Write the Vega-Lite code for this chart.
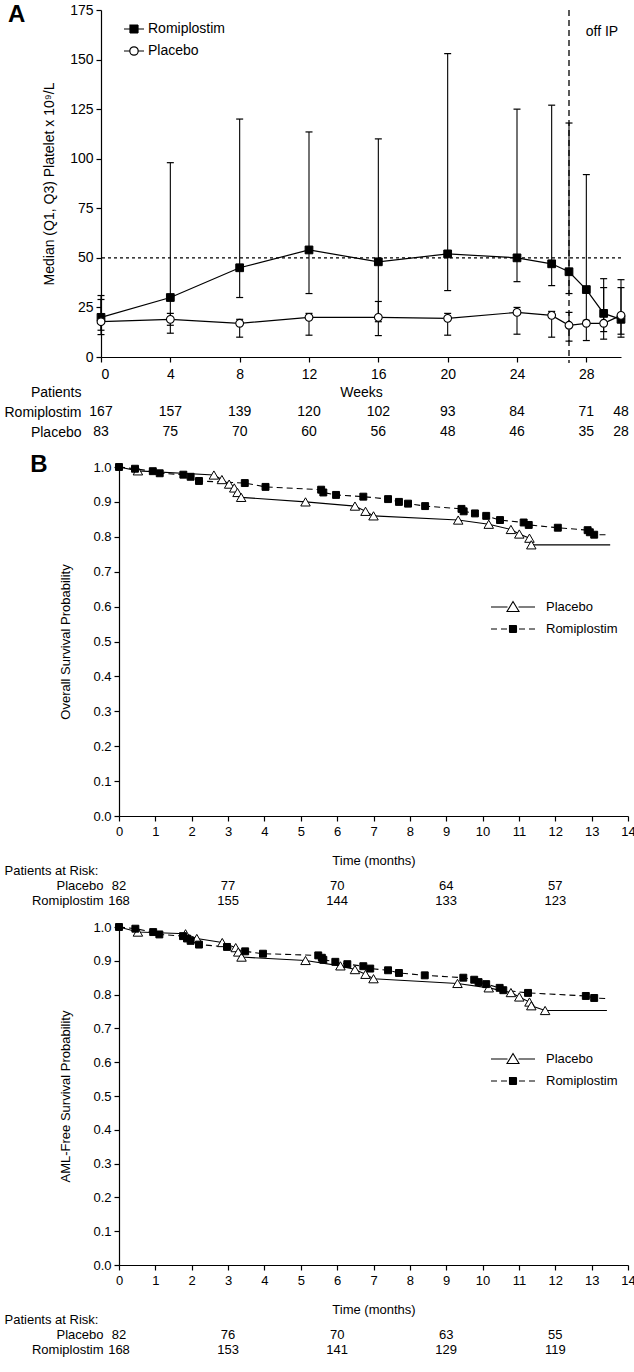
{
  "$schema": "https://vega.github.io/schema/vega-lite/v6.json",
  "background": "white",
  "padding": {"left": 3, "top": 3, "right": 0, "bottom": 2},
  "config": {
    "font": "Liberation Sans",
    "view": {"stroke": null},
    "axis": {"grid": false, "labelColor": "#000", "titleColor": "#000", "domainColor": "#000", "tickColor": "#000", "labelFont": "Liberation Sans", "titleFont": "Liberation Sans", "titleFontWeight": "normal", "labelFontSize": 13, "titleFontSize": 13, "tickSize": 5, "domainWidth": 1.2, "tickWidth": 1.2, "labelOverlap": false},
    "legend": {"labelFont": "Liberation Sans", "labelColor": "#000"},
    "text": {"font": "Liberation Sans", "color": "#000"}
  },
  "datasets": {
    "pa": [
      {"group": "Romiplostim", "week": 0, "med": 20, "q1": 13.5, "q3": 31},
      {"group": "Romiplostim", "week": 4, "med": 30, "q1": 16, "q3": 98},
      {"group": "Romiplostim", "week": 8, "med": 45, "q1": 30, "q3": 120},
      {"group": "Romiplostim", "week": 12, "med": 54, "q1": 32, "q3": 113.5},
      {"group": "Romiplostim", "week": 16, "med": 48, "q1": 17.8, "q3": 110},
      {"group": "Romiplostim", "week": 20, "med": 52, "q1": 33.5, "q3": 153},
      {"group": "Romiplostim", "week": 24, "med": 50, "q1": 38, "q3": 125},
      {"group": "Romiplostim", "week": 26, "med": 47, "q1": 36, "q3": 127},
      {"group": "Romiplostim", "week": 27, "med": 43, "q1": 32, "q3": 118},
      {"group": "Romiplostim", "week": 28, "med": 34, "q1": 18, "q3": 92},
      {"group": "Romiplostim", "week": 29, "med": 22, "q1": 12.8, "q3": 39.5},
      {"group": "Romiplostim", "week": 30, "med": 19, "q1": 11.5, "q3": 39},
      {"group": "Placebo", "week": 0, "med": 17.8, "q1": 11.3, "q3": 29},
      {"group": "Placebo", "week": 4, "med": 19, "q1": 12, "q3": 22},
      {"group": "Placebo", "week": 8, "med": 17, "q1": 10, "q3": 19},
      {"group": "Placebo", "week": 12, "med": 20, "q1": 11, "q3": 22},
      {"group": "Placebo", "week": 16, "med": 20, "q1": 10.8, "q3": 28},
      {"group": "Placebo", "week": 20, "med": 19.5, "q1": 11, "q3": 22},
      {"group": "Placebo", "week": 24, "med": 22.5, "q1": 11.5, "q3": 25},
      {"group": "Placebo", "week": 26, "med": 21, "q1": 10, "q3": 23},
      {"group": "Placebo", "week": 27, "med": 16, "q1": 8, "q3": 22.5},
      {"group": "Placebo", "week": 28, "med": 17, "q1": 8.3, "q3": 18.5},
      {"group": "Placebo", "week": 29, "med": 17, "q1": 9, "q3": 35},
      {"group": "Placebo", "week": 30, "med": 21, "q1": 10, "q3": 35}
    ],
    "ta": [
      {"row": "Romiplostim", "week": 0, "n": 167}, {"row": "Romiplostim", "week": 4, "n": 157}, {"row": "Romiplostim", "week": 8, "n": 139}, {"row": "Romiplostim", "week": 12, "n": 120}, {"row": "Romiplostim", "week": 16, "n": 102}, {"row": "Romiplostim", "week": 20, "n": 93}, {"row": "Romiplostim", "week": 24, "n": 84}, {"row": "Romiplostim", "week": 28, "n": 71}, {"row": "Romiplostim", "week": 30, "n": 48},
      {"row": "Placebo", "week": 0, "n": 83}, {"row": "Placebo", "week": 4, "n": 75}, {"row": "Placebo", "week": 8, "n": 70}, {"row": "Placebo", "week": 12, "n": 60}, {"row": "Placebo", "week": 16, "n": 56}, {"row": "Placebo", "week": 20, "n": 48}, {"row": "Placebo", "week": 24, "n": 46}, {"row": "Placebo", "week": 28, "n": 35}, {"row": "Placebo", "week": 30, "n": 28}
    ],
    "tb1": [
      {"row": "Placebo", "month": 0, "n": 82}, {"row": "Placebo", "month": 3, "n": 77}, {"row": "Placebo", "month": 6, "n": 70}, {"row": "Placebo", "month": 9, "n": 64}, {"row": "Placebo", "month": 12, "n": 57},
      {"row": "Romiplostim", "month": 0, "n": 168}, {"row": "Romiplostim", "month": 3, "n": 155}, {"row": "Romiplostim", "month": 6, "n": 144}, {"row": "Romiplostim", "month": 9, "n": 133}, {"row": "Romiplostim", "month": 12, "n": 123}
    ],
    "tb2": [
      {"row": "Placebo", "month": 0, "n": 82}, {"row": "Placebo", "month": 3, "n": 76}, {"row": "Placebo", "month": 6, "n": 70}, {"row": "Placebo", "month": 9, "n": 63}, {"row": "Placebo", "month": 12, "n": 55},
      {"row": "Romiplostim", "month": 0, "n": 168}, {"row": "Romiplostim", "month": 3, "n": 153}, {"row": "Romiplostim", "month": 6, "n": 141}, {"row": "Romiplostim", "month": 9, "n": 129}, {"row": "Romiplostim", "month": 12, "n": 119}
    ],
    "km": [
      {"panel": "OS", "group": "Placebo", "month": 0, "surv": 1.0, "m": 0},
      {"panel": "OS", "group": "Placebo", "month": 0.52, "surv": 0.989, "m": 1},
      {"panel": "OS", "group": "Placebo", "month": 2.61, "surv": 0.977, "m": 1},
      {"panel": "OS", "group": "Placebo", "month": 2.83, "surv": 0.964, "m": 1},
      {"panel": "OS", "group": "Placebo", "month": 3.03, "surv": 0.951, "m": 1},
      {"panel": "OS", "group": "Placebo", "month": 3.17, "surv": 0.940, "m": 1},
      {"panel": "OS", "group": "Placebo", "month": 3.26, "surv": 0.927, "m": 1},
      {"panel": "OS", "group": "Placebo", "month": 3.36, "surv": 0.913, "m": 1},
      {"panel": "OS", "group": "Placebo", "month": 5.13, "surv": 0.900, "m": 1},
      {"panel": "OS", "group": "Placebo", "month": 6.49, "surv": 0.888, "m": 1},
      {"panel": "OS", "group": "Placebo", "month": 6.78, "surv": 0.873, "m": 1},
      {"panel": "OS", "group": "Placebo", "month": 7.00, "surv": 0.860, "m": 1},
      {"panel": "OS", "group": "Placebo", "month": 9.33, "surv": 0.848, "m": 1},
      {"panel": "OS", "group": "Placebo", "month": 10.17, "surv": 0.836, "m": 1},
      {"panel": "OS", "group": "Placebo", "month": 10.78, "surv": 0.821, "m": 1},
      {"panel": "OS", "group": "Placebo", "month": 11.01, "surv": 0.808, "m": 1},
      {"panel": "OS", "group": "Placebo", "month": 11.29, "surv": 0.796, "m": 1},
      {"panel": "OS", "group": "Placebo", "month": 11.34, "surv": 0.777, "m": 1},
      {"panel": "OS", "group": "Placebo", "month": 13.51, "surv": 0.777, "m": 0},
      {"panel": "OS", "group": "Romiplostim", "month": 0, "surv": 1.0, "m": 1},
      {"panel": "OS", "group": "Romiplostim", "month": 0.44, "surv": 0.995, "m": 1},
      {"panel": "OS", "group": "Romiplostim", "month": 0.93, "surv": 0.988, "m": 1},
      {"panel": "OS", "group": "Romiplostim", "month": 1.12, "surv": 0.982, "m": 1},
      {"panel": "OS", "group": "Romiplostim", "month": 1.77, "surv": 0.978, "m": 1},
      {"panel": "OS", "group": "Romiplostim", "month": 1.97, "surv": 0.972, "m": 1},
      {"panel": "OS", "group": "Romiplostim", "month": 2.20, "surv": 0.960, "m": 1},
      {"panel": "OS", "group": "Romiplostim", "month": 3.46, "surv": 0.954, "m": 1},
      {"panel": "OS", "group": "Romiplostim", "month": 4.03, "surv": 0.943, "m": 1},
      {"panel": "OS", "group": "Romiplostim", "month": 5.56, "surv": 0.935, "m": 1},
      {"panel": "OS", "group": "Romiplostim", "month": 5.62, "surv": 0.927, "m": 1},
      {"panel": "OS", "group": "Romiplostim", "month": 5.97, "surv": 0.920, "m": 1},
      {"panel": "OS", "group": "Romiplostim", "month": 6.72, "surv": 0.915, "m": 1},
      {"panel": "OS", "group": "Romiplostim", "month": 7.40, "surv": 0.908, "m": 1},
      {"panel": "OS", "group": "Romiplostim", "month": 7.70, "surv": 0.900, "m": 1},
      {"panel": "OS", "group": "Romiplostim", "month": 7.95, "surv": 0.895, "m": 1},
      {"panel": "OS", "group": "Romiplostim", "month": 8.42, "surv": 0.888, "m": 1},
      {"panel": "OS", "group": "Romiplostim", "month": 9.42, "surv": 0.880, "m": 1},
      {"panel": "OS", "group": "Romiplostim", "month": 9.48, "surv": 0.873, "m": 1},
      {"panel": "OS", "group": "Romiplostim", "month": 9.79, "surv": 0.867, "m": 1},
      {"panel": "OS", "group": "Romiplostim", "month": 10.10, "surv": 0.860, "m": 1},
      {"panel": "OS", "group": "Romiplostim", "month": 10.48, "surv": 0.848, "m": 1},
      {"panel": "OS", "group": "Romiplostim", "month": 11.13, "surv": 0.841, "m": 1},
      {"panel": "OS", "group": "Romiplostim", "month": 11.27, "surv": 0.834, "m": 1},
      {"panel": "OS", "group": "Romiplostim", "month": 12.07, "surv": 0.826, "m": 1},
      {"panel": "OS", "group": "Romiplostim", "month": 12.89, "surv": 0.819, "m": 1},
      {"panel": "OS", "group": "Romiplostim", "month": 12.95, "surv": 0.813, "m": 1},
      {"panel": "OS", "group": "Romiplostim", "month": 13.07, "surv": 0.806, "m": 1},
      {"panel": "OS", "group": "Romiplostim", "month": 13.45, "surv": 0.806, "m": 0},
      {"panel": "AML", "group": "Romiplostim", "month": 0, "surv": 1.0, "m": 1},
      {"panel": "AML", "group": "Romiplostim", "month": 0.45, "surv": 0.995, "m": 1},
      {"panel": "AML", "group": "Romiplostim", "month": 0.94, "surv": 0.985, "m": 1},
      {"panel": "AML", "group": "Romiplostim", "month": 1.11, "surv": 0.978, "m": 1},
      {"panel": "AML", "group": "Romiplostim", "month": 1.76, "surv": 0.973, "m": 1},
      {"panel": "AML", "group": "Romiplostim", "month": 1.87, "surv": 0.966, "m": 1},
      {"panel": "AML", "group": "Romiplostim", "month": 1.97, "surv": 0.959, "m": 1},
      {"panel": "AML", "group": "Romiplostim", "month": 2.20, "surv": 0.948, "m": 1},
      {"panel": "AML", "group": "Romiplostim", "month": 2.97, "surv": 0.941, "m": 1},
      {"panel": "AML", "group": "Romiplostim", "month": 3.47, "surv": 0.928, "m": 1},
      {"panel": "AML", "group": "Romiplostim", "month": 3.96, "surv": 0.921, "m": 1},
      {"panel": "AML", "group": "Romiplostim", "month": 5.48, "surv": 0.916, "m": 1},
      {"panel": "AML", "group": "Romiplostim", "month": 5.58, "surv": 0.909, "m": 1},
      {"panel": "AML", "group": "Romiplostim", "month": 5.62, "surv": 0.903, "m": 1},
      {"panel": "AML", "group": "Romiplostim", "month": 5.95, "surv": 0.897, "m": 1},
      {"panel": "AML", "group": "Romiplostim", "month": 6.28, "surv": 0.890, "m": 1},
      {"panel": "AML", "group": "Romiplostim", "month": 6.72, "surv": 0.884, "m": 1},
      {"panel": "AML", "group": "Romiplostim", "month": 6.91, "surv": 0.877, "m": 1},
      {"panel": "AML", "group": "Romiplostim", "month": 7.40, "surv": 0.872, "m": 1},
      {"panel": "AML", "group": "Romiplostim", "month": 7.70, "surv": 0.864, "m": 1},
      {"panel": "AML", "group": "Romiplostim", "month": 8.41, "surv": 0.857, "m": 1},
      {"panel": "AML", "group": "Romiplostim", "month": 9.47, "surv": 0.850, "m": 1},
      {"panel": "AML", "group": "Romiplostim", "month": 9.77, "surv": 0.844, "m": 1},
      {"panel": "AML", "group": "Romiplostim", "month": 9.89, "surv": 0.837, "m": 1},
      {"panel": "AML", "group": "Romiplostim", "month": 10.10, "surv": 0.831, "m": 1},
      {"panel": "AML", "group": "Romiplostim", "month": 10.47, "surv": 0.820, "m": 1},
      {"panel": "AML", "group": "Romiplostim", "month": 10.57, "surv": 0.813, "m": 1},
      {"panel": "AML", "group": "Romiplostim", "month": 11.25, "surv": 0.805, "m": 1},
      {"panel": "AML", "group": "Romiplostim", "month": 12.84, "surv": 0.796, "m": 1},
      {"panel": "AML", "group": "Romiplostim", "month": 13.07, "surv": 0.790, "m": 1},
      {"panel": "AML", "group": "Romiplostim", "month": 13.42, "surv": 0.788, "m": 0},
      {"panel": "AML", "group": "Placebo", "month": 0, "surv": 1.0, "m": 0},
      {"panel": "AML", "group": "Placebo", "month": 0.52, "surv": 0.985, "m": 1},
      {"panel": "AML", "group": "Placebo", "month": 1.83, "surv": 0.980, "m": 1},
      {"panel": "AML", "group": "Placebo", "month": 2.14, "surv": 0.966, "m": 1},
      {"panel": "AML", "group": "Placebo", "month": 2.84, "surv": 0.954, "m": 1},
      {"panel": "AML", "group": "Placebo", "month": 3.21, "surv": 0.939, "m": 1},
      {"panel": "AML", "group": "Placebo", "month": 3.28, "surv": 0.926, "m": 1},
      {"panel": "AML", "group": "Placebo", "month": 3.37, "surv": 0.911, "m": 1},
      {"panel": "AML", "group": "Placebo", "month": 5.13, "surv": 0.901, "m": 1},
      {"panel": "AML", "group": "Placebo", "month": 6.09, "surv": 0.885, "m": 1},
      {"panel": "AML", "group": "Placebo", "month": 6.49, "surv": 0.874, "m": 1},
      {"panel": "AML", "group": "Placebo", "month": 6.78, "surv": 0.860, "m": 1},
      {"panel": "AML", "group": "Placebo", "month": 7.00, "surv": 0.847, "m": 1},
      {"panel": "AML", "group": "Placebo", "month": 9.31, "surv": 0.833, "m": 1},
      {"panel": "AML", "group": "Placebo", "month": 10.17, "surv": 0.820, "m": 1},
      {"panel": "AML", "group": "Placebo", "month": 10.78, "surv": 0.806, "m": 1},
      {"panel": "AML", "group": "Placebo", "month": 11.01, "surv": 0.793, "m": 1},
      {"panel": "AML", "group": "Placebo", "month": 11.29, "surv": 0.778, "m": 1},
      {"panel": "AML", "group": "Placebo", "month": 11.34, "surv": 0.767, "m": 1},
      {"panel": "AML", "group": "Placebo", "month": 11.72, "surv": 0.753, "m": 1},
      {"panel": "AML", "group": "Placebo", "month": 13.42, "surv": 0.753, "m": 0}
    ]
  },
  "resolve": {"scale": {"strokeDash": "independent", "stroke": "independent"}, "legend": {"strokeDash": "independent", "stroke": "independent"}},
  "spacing": 11,
  "vconcat": [
    {
      "spacing": 1,
      "vconcat": [
        {
          "width": 520, "height": 347,
          "title": {"text": "A", "orient": "left", "anchor": "end", "angle": 0, "align": "right", "baseline": "top", "fontSize": 24, "fontWeight": "bold", "font": "Liberation Sans", "color": "#000", "offset": 0},
          "data": {"name": "pa"},
          "layer": [
            {"data": {"values": [{}]}, "mark": {"type": "rule", "strokeDash": [3, 3], "strokeWidth": 1.3, "color": "#000"}, "encoding": {"y": {"datum": 50, "type": "quantitative"}}},
            {"data": {"values": [{}]}, "mark": {"type": "rule", "strokeDash": [6, 4], "strokeWidth": 1.3, "color": "#000"}, "encoding": {"x": {"datum": 27, "type": "quantitative"}, "y": {"datum": 175, "type": "quantitative"}, "y2": {"datum": -3}}},
            {"mark": {"type": "rule", "color": "#000", "strokeWidth": 1.1},
             "encoding": {
               "x": {"field": "week", "type": "quantitative", "scale": {"domain": [0, 30], "nice": false},
                     "axis": {"values": [0, 2, 4, 6, 8, 10, 12, 14, 16, 18, 20, 22, 24, 26, 28, 30], "labelExpr": "datum.value % 4 == 0 ? datum.label : ''", "title": null, "labelFontSize": 14, "labelPadding": 5, "labelOverlap": false}},
               "y": {"field": "q1", "type": "quantitative", "scale": {"domain": [0, 175], "nice": false},
                     "axis": {"values": [0, 25, 50, 75, 100, 125, 150, 175], "title": "Median (Q1, Q3) Platelet x 10⁹/L", "titlePadding": 13, "labelFontSize": 14, "titleFontSize": 14, "labelPadding": 3}},
               "y2": {"field": "q3"}
             }},
            {"mark": {"type": "tick", "orient": "horizontal", "size": 7, "thickness": 1.2, "color": "#000", "opacity": 1}, "encoding": {"x": {"field": "week", "type": "quantitative"}, "y": {"field": "q1", "type": "quantitative"}}},
            {"mark": {"type": "tick", "orient": "horizontal", "size": 7, "thickness": 1.2, "color": "#000", "opacity": 1}, "encoding": {"x": {"field": "week", "type": "quantitative"}, "y": {"field": "q3", "type": "quantitative"}}},
            {"mark": {"type": "line", "color": "#000", "strokeWidth": 1.2}, "encoding": {"x": {"field": "week", "type": "quantitative"}, "y": {"field": "med", "type": "quantitative"}, "detail": {"field": "group", "type": "nominal"}}},
            {"transform": [{"filter": "datum.group == 'Romiplostim'"}], "mark": {"type": "point", "shape": "square", "filled": true, "fill": "#000", "stroke": "#000", "strokeWidth": 1, "size": 60, "opacity": 1}, "encoding": {"x": {"field": "week", "type": "quantitative"}, "y": {"field": "med", "type": "quantitative"}}},
            {"transform": [{"filter": "datum.group == 'Placebo'"}], "mark": {"type": "point", "shape": "circle", "filled": true, "fill": "#fff", "stroke": "#000", "strokeWidth": 1.1, "size": 60, "opacity": 1}, "encoding": {"x": {"field": "week", "type": "quantitative"}, "y": {"field": "med", "type": "quantitative"}}},
            {"data": {"values": []}, "mark": {"type": "line", "color": "#000", "strokeWidth": 1.2},
             "encoding": {"x": {"field": "week", "type": "quantitative"}, "y": {"field": "med", "type": "quantitative"},
                          "strokeDash": {"field": "group", "type": "nominal", "scale": {"domain": ["Romiplostim"], "range": [[1, 0]]},
                                         "legend": {"title": null, "orient": "none", "legendX": 22, "legendY": 8, "symbolType": "M-1,0H1M-0.4,-0.4H0.4V0.4H-0.4Z", "symbolSize": 400, "symbolFillColor": "#000", "symbolStrokeColor": "#000", "symbolStrokeWidth": 1.2, "labelFontSize": 14, "labelOffset": 3, "padding": 0}}}},
            {"data": {"values": []}, "mark": {"type": "line", "color": "#000", "strokeWidth": 1.2},
             "encoding": {"x": {"field": "week", "type": "quantitative"}, "y": {"field": "med", "type": "quantitative"},
                          "stroke": {"field": "group", "type": "nominal", "scale": {"domain": ["Placebo"], "range": ["#000"]},
                                     "legend": {"title": null, "orient": "none", "legendX": 22, "legendY": 30, "symbolType": "M-1,0H-0.42M0.42,0H1M-0.42,0A0.42,0.42 0 1,1 0.42,0A0.42,0.42 0 1,1 -0.42,0Z", "symbolSize": 400, "symbolFillColor": "#fff", "symbolStrokeWidth": 1.2, "labelFontSize": 14, "labelOffset": 3, "padding": 0}}}},
            {"data": {"values": [{"t": "off IP"}]}, "mark": {"type": "text", "fontSize": 14, "align": "center", "baseline": "middle"}, "encoding": {"x": {"datum": 28.9, "type": "quantitative"}, "y": {"datum": 164, "type": "quantitative"}, "text": {"field": "t"}}}
          ]
        },
        {
          "width": 520, "height": 60,
          "data": {"name": "ta"},
          "mark": {"type": "text", "fontSize": 14, "align": "center", "baseline": "middle"},
          "encoding": {
            "x": {"field": "week", "type": "quantitative", "scale": {"domain": [0, 30], "nice": false}, "axis": {"orient": "top", "title": "Weeks", "labels": false, "ticks": false, "domain": false, "titleY": 10, "titleBaseline": "middle", "titleFontSize": 14}},
            "y": {"field": "row", "type": "nominal", "scale": {"domain": ["Patients", "Romiplostim", "Placebo"]}, "axis": {"title": null, "ticks": false, "domain": false, "labelPadding": 20, "labelFontSize": 14}},
            "text": {"field": "n"}
          }
        }
      ]
    },
    {
      "spacing": 0,
      "bounds": "flush",
      "resolve": {"scale": {"strokeDash": "independent", "stroke": "independent"}, "legend": {"strokeDash": "independent", "stroke": "independent"}},
      "hconcat": [
        {"width": 18, "height": 1, "data": {"values": [{}]}, "mark": {"type": "point", "opacity": 0}},
        {
          "spacing": 13,
          "resolve": {"scale": {"strokeDash": "independent", "stroke": "independent"}, "legend": {"strokeDash": "independent", "stroke": "independent"}},
          "vconcat": [
            {
              "spacing": 16,
              "vconcat": [
                {
                  "width": 509, "height": 349,
                  "title": {"text": "B", "orient": "left", "anchor": "end", "angle": 0, "align": "right", "baseline": "top", "fontSize": 24, "fontWeight": "bold", "font": "Liberation Sans", "color": "#000", "offset": -5, "dy": -8},
                  "data": {"name": "km"},
                  "transform": [{"filter": "datum.panel == 'OS'"}],
                  "encoding": {
                    "x": {"field": "month", "type": "quantitative", "scale": {"domain": [0, 14], "nice": false}, "axis": {"values": [0, 1, 2, 3, 4, 5, 6, 7, 8, 9, 10, 11, 12, 13, 14], "tickCount": 15, "title": null, "labelPadding": 4, "labelOverlap": false, "labelFlush": false}},
                    "y": {"field": "surv", "type": "quantitative", "scale": {"domain": [0, 1], "nice": false}, "axis": {"values": [0, 0.1, 0.2, 0.3, 0.4, 0.5, 0.6, 0.7, 0.8, 0.9, 1], "tickCount": 11, "format": ".1f", "title": "Overall Survival Probability", "titlePadding": 20, "labelPadding": 3, "labelOverlap": false}}
                  },
                  "layer": [
                    {"transform": [{"filter": "datum.group == 'Placebo'"}], "mark": {"type": "line", "color": "#000", "strokeWidth": 1.1}, "encoding": {"order": {"field": "month"}}},
                    {"transform": [{"filter": "datum.group == 'Romiplostim'"}], "mark": {"type": "line", "color": "#000", "strokeWidth": 1.1, "strokeDash": [6, 4]}, "encoding": {"order": {"field": "month"}}},
                    {"transform": [{"filter": "datum.m == 1 && datum.group == 'Placebo'"}], "mark": {"type": "point", "shape": "triangle-up", "filled": true, "fill": "#fff", "stroke": "#000", "strokeWidth": 1, "size": 90, "opacity": 1}},
                    {"transform": [{"filter": "datum.m == 1 && datum.group == 'Romiplostim'"}], "mark": {"type": "point", "shape": "square", "filled": true, "fill": "#000", "stroke": "#000", "strokeWidth": 1, "size": 48, "opacity": 1}},
                    {"data": {"values": []}, "mark": {"type": "line", "color": "#000", "strokeWidth": 1.1},
                     "encoding": {"stroke": {"field": "group", "type": "nominal", "scale": {"domain": ["Placebo"], "range": ["#000"]},
                                             "legend": {"title": null, "orient": "none", "legendX": 383, "legendY": 129, "symbolType": "M-2.2,0H-0.55M0.55,0H2.2M0,-0.55L0.6,0.45H-0.6Z", "symbolSize": 400, "symbolFillColor": "#fff", "symbolStrokeWidth": 1.1, "labelFontSize": 13, "labelOffset": 22, "padding": 0}}}},
                    {"data": {"values": []}, "mark": {"type": "line", "color": "#000", "strokeWidth": 1.1},
                     "encoding": {"strokeDash": {"field": "group", "type": "nominal", "scale": {"domain": ["Romiplostim"], "range": [[1, 0]]},
                                                 "legend": {"title": null, "orient": "none", "legendX": 383, "legendY": 151, "symbolType": "M-2.2,0H-1.6M-1.2,0H-0.6M0.6,0H1.2M1.6,0H2.2M-0.35,-0.35H0.35V0.35H-0.35Z", "symbolSize": 400, "symbolFillColor": "#000", "symbolStrokeColor": "#000", "symbolStrokeWidth": 1.1, "labelFontSize": 13, "labelOffset": 22, "padding": 0}}}}
                  ]
                },
                {
                  "width": 509, "height": 30,
                  "data": {"name": "tb1"},
                  "mark": {"type": "text", "fontSize": 13, "align": "center", "baseline": "middle"},
                  "encoding": {
                    "x": {"field": "month", "type": "quantitative", "scale": {"domain": [0, 14], "nice": false}, "axis": {"orient": "top", "title": "Time (months)", "labels": false, "ticks": false, "domain": false, "titleY": -17.5, "titleBaseline": "middle", "titleFontSize": 13}},
                    "y": {"field": "row", "type": "nominal", "scale": {"domain": ["Placebo", "Romiplostim"]}, "axis": {"title": "Patients at Risk:", "titleAngle": 0, "titleAlign": "left", "titleBaseline": "middle", "titleX": -115, "titleY": -7.5, "ticks": false, "domain": false, "labelPadding": 16, "labelFontSize": 13}},
                    "text": {"field": "n"}
                  }
                }
              ]
            },
            {
              "spacing": 16,
              "vconcat": [
                {
                  "width": 509, "height": 338,
                  "data": {"name": "km"},
                  "transform": [{"filter": "datum.panel == 'AML'"}],
                  "encoding": {
                    "x": {"field": "month", "type": "quantitative", "scale": {"domain": [0, 14], "nice": false}, "axis": {"values": [0, 1, 2, 3, 4, 5, 6, 7, 8, 9, 10, 11, 12, 13, 14], "tickCount": 15, "title": null, "labelPadding": 4, "labelOverlap": false, "labelFlush": false}},
                    "y": {"field": "surv", "type": "quantitative", "scale": {"domain": [0, 1], "nice": false}, "axis": {"values": [0, 0.1, 0.2, 0.3, 0.4, 0.5, 0.6, 0.7, 0.8, 0.9, 1], "tickCount": 11, "format": ".1f", "title": "AML-Free Survival Probability", "titlePadding": 20, "labelPadding": 3, "labelOverlap": false}}
                  },
                  "layer": [
                    {"transform": [{"filter": "datum.group == 'Placebo'"}], "mark": {"type": "line", "color": "#000", "strokeWidth": 1.1}, "encoding": {"order": {"field": "month"}}},
                    {"transform": [{"filter": "datum.group == 'Romiplostim'"}], "mark": {"type": "line", "color": "#000", "strokeWidth": 1.1, "strokeDash": [6, 4]}, "encoding": {"order": {"field": "month"}}},
                    {"transform": [{"filter": "datum.m == 1 && datum.group == 'Placebo'"}], "mark": {"type": "point", "shape": "triangle-up", "filled": true, "fill": "#fff", "stroke": "#000", "strokeWidth": 1, "size": 90, "opacity": 1}},
                    {"transform": [{"filter": "datum.m == 1 && datum.group == 'Romiplostim'"}], "mark": {"type": "point", "shape": "square", "filled": true, "fill": "#000", "stroke": "#000", "strokeWidth": 1, "size": 48, "opacity": 1}},
                    {"data": {"values": []}, "mark": {"type": "line", "color": "#000", "strokeWidth": 1.1},
                     "encoding": {"stroke": {"field": "group", "type": "nominal", "scale": {"domain": ["Placebo"], "range": ["#000"]},
                                             "legend": {"title": null, "orient": "none", "legendX": 383, "legendY": 121, "symbolType": "M-2.2,0H-0.55M0.55,0H2.2M0,-0.55L0.6,0.45H-0.6Z", "symbolSize": 400, "symbolFillColor": "#fff", "symbolStrokeWidth": 1.1, "labelFontSize": 13, "labelOffset": 22, "padding": 0}}}},
                    {"data": {"values": []}, "mark": {"type": "line", "color": "#000", "strokeWidth": 1.1},
                     "encoding": {"strokeDash": {"field": "group", "type": "nominal", "scale": {"domain": ["Romiplostim"], "range": [[1, 0]]},
                                                 "legend": {"title": null, "orient": "none", "legendX": 383, "legendY": 143, "symbolType": "M-2.2,0H-1.6M-1.2,0H-0.6M0.6,0H1.2M1.6,0H2.2M-0.35,-0.35H0.35V0.35H-0.35Z", "symbolSize": 400, "symbolFillColor": "#000", "symbolStrokeColor": "#000", "symbolStrokeWidth": 1.1, "labelFontSize": 13, "labelOffset": 22, "padding": 0}}}}
                  ]
                },
                {
                  "width": 509, "height": 30,
                  "data": {"name": "tb2"},
                  "mark": {"type": "text", "fontSize": 13, "align": "center", "baseline": "middle"},
                  "encoding": {
                    "x": {"field": "month", "type": "quantitative", "scale": {"domain": [0, 14], "nice": false}, "axis": {"orient": "top", "title": "Time (months)", "labels": false, "ticks": false, "domain": false, "titleY": -17.5, "titleBaseline": "middle", "titleFontSize": 13}},
                    "y": {"field": "row", "type": "nominal", "scale": {"domain": ["Placebo", "Romiplostim"]}, "axis": {"title": "Patients at Risk:", "titleAngle": 0, "titleAlign": "left", "titleBaseline": "middle", "titleX": -115, "titleY": -7.5, "ticks": false, "domain": false, "labelPadding": 16, "labelFontSize": 13}},
                    "text": {"field": "n"}
                  }
                }
              ]
            }
          ]
        }
      ]
    }
  ]
}
